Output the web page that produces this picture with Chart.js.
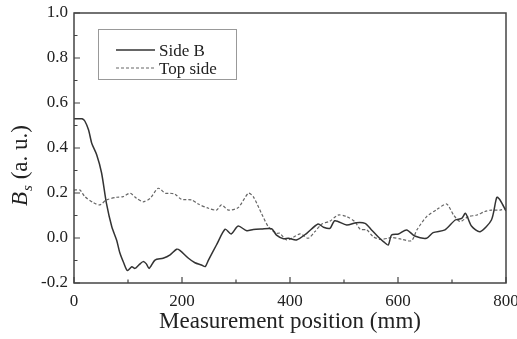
<!DOCTYPE html>
<html>
<head>
<meta charset="utf-8">
<script src="https://cdn.jsdelivr.net/npm/chart.js@4.4.1/dist/chart.umd.min.js"></script>
<style>
  html, body { margin: 0; padding: 0; background: #fff; }
  #wrap { width: 517px; height: 339px; }
</style>
</head>
<body>
<div id="wrap"><canvas id="bsChart" width="517" height="339"></canvas></div>
<script>
// positions (mm) and Bs values
var sideBPos = [0, 8, 15, 20, 27, 33, 42, 51, 60, 70, 79, 85, 92, 99, 107, 113, 120, 128, 134, 139,
    150, 165, 178, 190, 196, 212, 224, 236, 243, 249, 264, 280, 291, 304, 320, 332, 347, 366, 375, 388,
    397, 412, 431, 452, 462, 474, 483, 505, 523, 539, 551, 564, 573, 582, 588, 601, 616, 631, 653, 665,
    687, 706, 718, 725, 736, 752, 773, 783, 789, 800];
var sideBVal = [0.53, 0.53, 0.53, 0.52, 0.48, 0.42, 0.37, 0.29, 0.155, 0.05, -0.01, -0.067, -0.11, -0.145, -0.128, -0.135, -0.12, -0.105, -0.115, -0.135,
    -0.098, -0.09, -0.075, -0.05, -0.055, -0.09, -0.11, -0.12, -0.127, -0.098, -0.03, 0.039, 0.018, 0.053, 0.032, 0.038, 0.04, 0.041, 0.013, -0.003,
    -0.001, -0.009, 0.021, 0.062, 0.048, 0.043, 0.077, 0.058, 0.068, 0.065, 0.036, 0.003, -0.016, -0.031, 0.013, 0.018, 0.036, 0.009, -0.001, 0.024,
    0.036, 0.08, 0.087, 0.11, 0.053, 0.028, 0.08, 0.181, 0.169, 0.12];

var topPos = [0, 11, 20, 36, 48, 60, 79, 91, 104, 116, 128, 141, 156, 169, 178, 187, 199, 218, 230, 249,
    264, 273, 286, 304, 323, 332, 347, 360, 375, 381, 394, 406, 419, 434, 446, 459, 474, 489, 505, 520,
    530, 542, 554, 567, 582, 588, 607, 625, 635, 653, 672, 690, 703, 715, 730, 746, 761, 773, 789, 800];
var topVal = [0.213, 0.213, 0.184, 0.157, 0.147, 0.169, 0.181, 0.184, 0.199, 0.176, 0.161, 0.176, 0.221, 0.199, 0.199, 0.195, 0.172, 0.169, 0.151, 0.132,
    0.124, 0.147, 0.124, 0.135, 0.199, 0.184, 0.11, 0.05, 0.021, 0.021, -0.009, 0.003, 0.018, -0.001, 0.028, 0.062, 0.075, 0.102, 0.095, 0.073,
    0.039, 0.036, 0.006, -0.006, -0.001, 0.003, -0.006, -0.012, 0.036, 0.095, 0.127, 0.151, 0.102, 0.073, 0.095, 0.102, 0.118, 0.124, 0.124, 0.132];

var seriesNames = ["Side B", "Top side"];
var xTicks = [0, 200, 400, 600, 800];
var yTicks = [-0.2, 0.0, 0.2, 0.4, 0.6, 0.8, 1.0];

var serif = "'Liberation Serif', 'Times New Roman', serif";
var ink = "#222";

function toPoints(xs, ys) {
    var pts = [];
    for (var i = 0; i < xs.length; i++) {
        pts.push({ x: xs[i], y: ys[i] });
    }
    return pts;
}

// frame, inward tick marks, y title and the boxed legend
var decor = {
    id: 'decor',
    afterDraw: function (chart) {
        var ctx = chart.ctx;
        var a = chart.chartArea;
        var xs = chart.scales.x, ys = chart.scales.y;
        ctx.save();

        ctx.strokeStyle = "#444";
        ctx.lineWidth = 1.5;
        ctx.strokeRect(a.left, a.top, a.right - a.left, a.bottom - a.top);

        ctx.lineWidth = 1.2;
        ctx.beginPath();
        for (var v = 0; v <= 800; v += 100) {
            var px = xs.getPixelForValue(v);
            var len = (v % 200 === 0) ? 6 : 3.5;
            ctx.moveTo(px, a.bottom);
            ctx.lineTo(px, a.bottom - len);
        }
        for (var k = -2; k <= 10; k++) {
            var py = ys.getPixelForValue(k / 10);
            var ylen = (k % 2 === 0) ? 6 : 3.5;
            ctx.moveTo(a.left, py);
            ctx.lineTo(a.left + ylen, py);
        }
        ctx.stroke();

        // y title: italic B with subscript s
        ctx.fillStyle = ink;
        ctx.translate(27, 206);
        ctx.rotate(-Math.PI / 2);
        ctx.textBaseline = 'alphabetic';
        ctx.textAlign = 'left';
        ctx.font = "italic 23px " + serif;
        ctx.fillText("B", 0, 0);
        var w = ctx.measureText("B").width;
        ctx.font = "italic 15px " + serif;
        ctx.fillText("s", w + 1, 5);
        var ws = ctx.measureText("s").width;
        ctx.font = "23px " + serif;
        ctx.fillText(" (a. u.)", w + ws + 1, 0);
        ctx.restore();

        // legend
        ctx.save();
        ctx.strokeStyle = "#999";
        ctx.lineWidth = 1;
        ctx.strokeRect(98.5, 29.5, 138, 50);
        ctx.font = "17px " + serif;
        ctx.fillStyle = ink;
        ctx.textBaseline = 'alphabetic';
        var rows = [50, 68];
        chart.data.datasets.forEach(function (ds, i) {
            ctx.strokeStyle = ds.borderColor;
            ctx.lineWidth = ds.borderWidth;
            ctx.setLineDash(ds.borderDash || []);
            ctx.beginPath();
            ctx.moveTo(116, rows[i]);
            ctx.lineTo(155, rows[i]);
            ctx.stroke();
            ctx.setLineDash([]);
            ctx.fillText(ds.label, 159, rows[i] + 6);
        });
        ctx.restore();
    }
};

document.addEventListener('DOMContentLoaded', function () {
    var chart = new Chart(document.getElementById("bsChart"), {
        type: 'line',
        data: {
            datasets: [{
                label: seriesNames[0],
                data: toPoints(sideBPos, sideBVal),
                borderColor: "#333",
                borderWidth: 1.5,
                pointRadius: 0,
                tension: 0.25,
                fill: false
            }, {
                label: seriesNames[1],
                data: toPoints(topPos, topVal),
                borderColor: "#666",
                borderWidth: 1.2,
                borderDash: [3, 2],
                pointRadius: 0,
                tension: 0.25,
                fill: false
            }]
        },
        options: {
            responsive: false,
            animation: false,
            layout: { padding: { left: 0, right: 11, top: 13, bottom: 0 } },
            plugins: {
                legend: { display: false },
                tooltip: { enabled: false }
            },
            scales: {
                x: {
                    type: 'linear',
                    min: 0,
                    max: 800,
                    afterBuildTicks: function (s) { s.ticks = xTicks.map(function (v) { return { value: v }; }); },
                    afterFit: function (s) {
                        s.height = 56;
                        s.paddingLeft = 0;
                        s.paddingRight = 0;
                    },
                    grid: { display: false, drawTicks: false },
                    border: { display: false },
                    ticks: {
                        color: ink,
                        padding: 8,
                        maxRotation: 0,
                        font: { family: serif, size: 17 }
                    },
                    title: {
                        display: true,
                        text: "Measurement position (mm)",
                        color: ink,
                        padding: { top: 0, bottom: 3 },
                        font: { family: serif, size: 23 }
                    }
                },
                y: {
                    min: -0.2,
                    max: 1.0,
                    afterBuildTicks: function (s) { s.ticks = yTicks.map(function (v) { return { value: v }; }); },
                    afterFit: function (s) {
                        s.width = 74;
                        s.paddingTop = 0;
                        s.paddingBottom = 0;
                    },
                    grid: { display: false, drawTicks: false },
                    border: { display: false },
                    ticks: {
                        color: ink,
                        padding: 6,
                        font: { family: serif, size: 17 },
                        callback: function (v) { return Number(v).toFixed(1); }
                    }
                }
            }
        },
        plugins: [decor]
    });
});
</script>
</body>
</html>
